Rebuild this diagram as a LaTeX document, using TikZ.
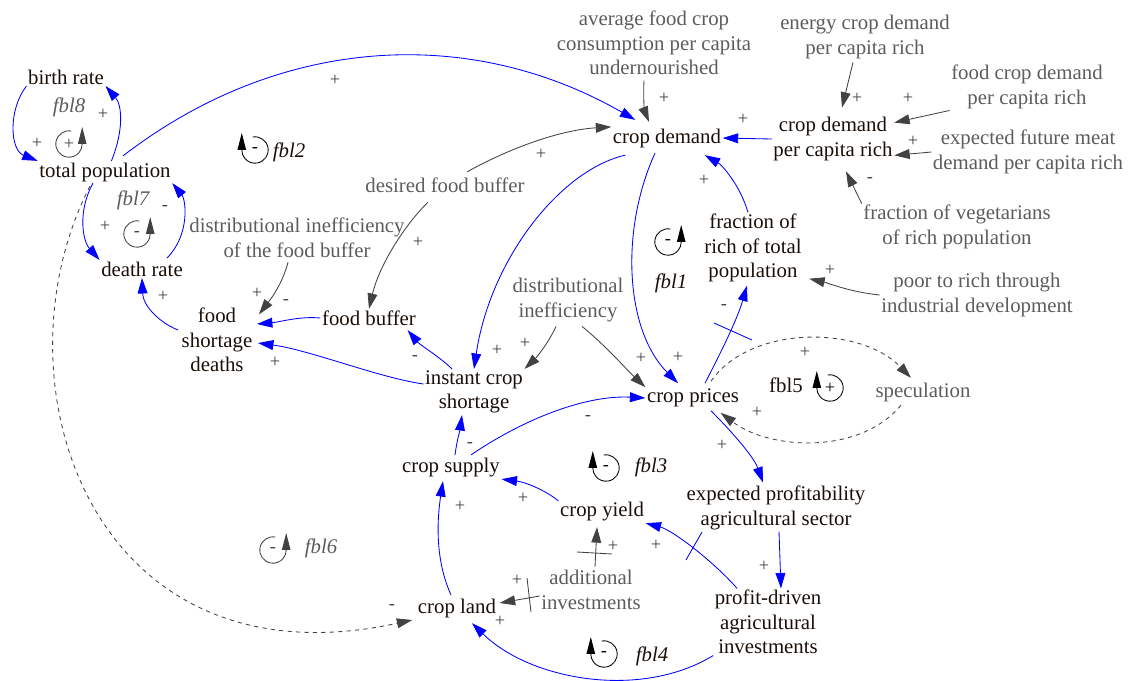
\documentclass[tikz,border=0pt]{standalone}
\usepackage{fontspec}
\setmainfont{Liberation Serif}
\usetikzlibrary{arrows.meta,calc}
\definecolor{vartext}{rgb}{.1,.06,.03}
\definecolor{auxtext}{rgb}{.36,.36,.36}
\definecolor{auxline}{rgb}{.26,.26,.26}

\begin{document}
\begin{tikzpicture}[x=0.025cm, y=-0.025cm,
  var/.style={text=vartext, align=center, inner sep=1pt, font=\fontsize{14.8}{17.4}\selectfont},
  aux/.style={var, text=auxtext},
  loopname/.style={var, font=\fontsize{14.8}{17.4}\selectfont\itshape},
  sgn/.style={text=auxline, inner sep=0pt, font=\fontsize{13}{13}\selectfont},
  causal/.style={blue, line width=0.6pt, -{Triangle[length=11pt,width=7pt]}},
  link/.style={auxline, line width=0.6pt, -{Triangle[length=11pt,width=7pt]}},
]
\useasboundingbox (0,0) rectangle (1133,680);

% variables
\node[var] (br) at (66,77) {birth rate};
\node[var] (tp) at (105,172) {total population};
\node[var] (dr) at (142,269) {death rate};
\node[var] (fsd) at (217,340) {food\\shortage\\deaths};
\node[var] (fb) at (369,318) {food buffer};
\node[var] (ics) at (474,392) {instant crop\\shortage};
\node[var] (cd) at (667,138) {crop demand};
\node[var] (cdr) at (833,139) {crop demand\\per capita rich};
\node[var] (fr) at (753,248) {fraction of\\rich of total\\population};
\node[var] (cp) at (693,398) {crop prices};
\node[var] (cs) at (451,468) {crop supply};
\node[var] (cy) at (602,512) {crop yield};
\node[var] (ep) at (776,508) {expected profitability\\agricultural sector};
\node[var] (pd) at (768,622) {profit-driven\\agricultural\\investments};
\node[var] (cl) at (457,608) {crop land};
\node[aux] (spec) at (923,392) {speculation};
\node[aux] (afc) at (654,43) {average food crop\\consumption per capita\\undernourished};
\node[aux] (ecd) at (865,37) {energy crop demand\\per capita rich};
\node[aux] (fcd) at (1027,87) {food crop demand\\per capita rich};
\node[aux] (efm) at (1028,152) {expected future meat\\demand per capita rich};
\node[aux] (fveg) at (957,227) {fraction of vegetarians\\of rich population};
\node[aux] (ptr) at (977,295) {poor to rich through\\industrial development};
\node[aux] (dfb) at (445,185) {desired food buffer};
\node[aux] (difb) at (297,238) {distributional inefficiency\\of the food buffer};
\node[aux] (di) at (568,300) {distributional\\inefficiency};
\node[aux] (ai) at (591,590) {additional\\investments};

% loop names
\node[loopname, text=auxtext] (fbl8) at (69,107) {fbl8};
\node[loopname, text=auxtext] (fbl7) at (133,200) {fbl7};
\node[loopname] (fbl2) at (289,152) {fbl2};
\node[loopname] (fbl1) at (671,283) {fbl1};
\node[loopname] (fbl3) at (651,467) {fbl3};
\node[loopname] (fbl4) at (652,656) {fbl4};
\node[loopname, text=auxtext] (fbl6) at (321,548) {fbl6};
\node[var] (fbl5) at (786,385) {fbl5};

% loop marks
\foreach \x/\y/\s/\c [count=\n] in {255/150/-/black, 606/468/-/black, 604/654/-/black, 830/388/+/black}
{
  \draw[draw=\c, line width=0.6pt, -{Triangle[length=12pt,width=6pt]}] (\x,\y) ++(100:0.33cm) arc[start angle=100, end angle=-180, radius=0.33cm] -- ++(0,-17);
  \node[sgn, text=\c] (ll\n) at (\x,\y) {\s};
}
\foreach \x/\y/\s/\c [count=\n] in {69/144/+/auxline, 137/234/-/auxline, 273/550/-/auxline, 668/242/-/black}
{
  \draw[draw=\c, line width=0.6pt, -{Triangle[length=12pt,width=6pt]}] (\x,\y) ++(80:0.33cm) arc[start angle=80, end angle=360, radius=0.33cm] -- ++(0,-17);
  \node[sgn, text=\c] (lr\n) at (\x,\y) {\s};
}

% population
\draw[causal] (br.south west) .. controls (8,110) and (10,150) .. (tp.north west);
\draw[causal] (tp.60) .. controls (124,130) and (122,105) .. (br.south east);
\draw[causal] ($(tp.north)+(18,-5)$) .. controls (280,35) and (470,25) .. ($(cd.north west)+(24,-7)$);
\draw[causal] ($(tp.south)+(-12,0)$) .. controls (78,210) and (82,240) .. (dr.north west);
\draw[causal] ($(dr.north)+(25,-2)$) .. controls (190,235) and (186,200) .. (tp.south east);
\draw[causal] ($(fsd.west)+(-2,-10)$) .. controls (158,322) and (143,305) .. (dr.south);
\draw[link, dashed] ($(tp.south)+(-15,3)$) .. controls (-10,380) and (90,690) .. ($(cl.west)+(-4,12)$);

% food buffer
\draw[causal] (fb.west) .. controls (300,316) and (280,322) .. ($(fsd.east)+(3,-16)$);
\draw[causal] ($(ics.west)+(0,-8)$) .. controls (380,378) and (310,350) .. ($(fsd.east)+(4,3)$);
\draw[causal] ($(ics.north)+(-22,0)$) .. controls (440,357) and (420,345) .. ($(fb.south east)+(-10,3)$);
\draw[link] ($(difb.south)+(-9,3)$) .. controls (282,285) and (270,300) .. ($(fsd.north east)+(5,8)$);
\draw[link] ($(dfb.south)+(-17,8)$) .. controls (400,230) and (378,270) .. (fb.north);
\draw[link] ($(dfb.north)+(22,-4)$) .. controls (510,148) and (560,130) .. (cd.north west);

% demand and prices
\draw[causal] ($(cd.south west)+(14,6)$) .. controls (560,170) and (490,260) .. (ics.north);
\draw[link] ($(di.south)+(-12,3)$) .. controls (550,340) and (538,356) .. (ics.north east);
\draw[link] ($(di.south)+(14,3)$) .. controls (605,345) and (625,368) .. (cp.north west);
\draw[causal] ($(cd.south)+(-12,4)$) .. controls (620,230) and (625,330) .. ($(cp.north)+(-15,-4)$);
\draw[causal] ($(cp.north)+(12,-4)$) .. controls (722,350) and (737,320) .. ($(fr.south)+(-6,2)$);
\draw[causal] ($(fr.north)+(-5,0)$) .. controls (740,185) and (722,165) .. ($(cd.south east)+(-18,6)$);
\draw[causal] (cdr.west) -- (cd.east);
\draw[link] ($(afc.south)+(-10,4)$) .. controls (643,100) and (645,112) .. ($(cd.north)+(-18,-5)$);
\draw[link] ($(ecd.south)+(-12,2)$) -- ($(cdr.north)+(9,-8)$);
\draw[link] (fcd.south west) -- (cdr.15);
\draw[link] (efm.west) -- (cdr.-15);
\draw[link] (fveg.north west) -- ($(cdr.south)+(13,9)$);
\draw[link] (ptr.west) .. controls (850,292) and (828,283) .. ($(fr.south east)+(6,-5)$);
\draw[link, dashed] ($(cp.north)+(18,-6)$) .. controls (750,325) and (860,325) .. ($(spec.north)+(-12,-3)$);
\draw[link, dashed] ($(spec.south)+(-22,2)$) .. controls (860,455) and (770,450) .. ($(cp.south east)+(-20,4)$);
\draw[blue, line width=0.6pt] (714,323) -- (752,340);

% supply
\draw[causal] ($(cs.north)+(4,-2)$) .. controls (457,440) and (460,430) .. ($(ics.south)+(-12,0)$);
\draw[causal] ($(cs.north)+(20,-2)$) .. controls (530,415) and (590,395) .. (cp.west);
\draw[causal] (cy.north west) .. controls (545,490) and (525,482) .. (cs.south east);
\draw[causal] ($(cl.north)+(-6,-2)$) .. controls (435,560) and (437,520) .. ($(cs.south)+(-8,2)$);
\draw[causal] ($(cp.south)+(18,2)$) .. controls (740,440) and (755,460) .. ($(ep.north)+(-13,-2)$);
\draw[causal] ($(ep.south)+(3,0)$) -- ($(pd.north)+(13,0)$);
\draw[causal] ($(pd.north west)+(24,0)$) .. controls (712,560) and (672,530) .. (cy.south east);
\draw[causal] (pd.south west) .. controls (640,700) and (530,680) .. ($(cl.south)+(15,4)$);
\draw[link] ($(ai.west)+(0,6)$) -- ($(cl.east)+(2,-5)$);
\draw[link] ($(ai.north)+(4,-2)$) -- ($(cy.south)+(-5,4)$);
\draw[blue, line width=0.6pt] (702,532) -- (686,560);
\draw[auxline, line width=0.6pt] (527,578) -- (531,612);
\draw[auxline, line width=0.6pt] (577,552) -- (612,554);

% polarities
\foreach \x/\y/\s [count=\n] in {37/143/+, 103/114/+, 335/80/+, 105/226/+, 165/208/-, 163/296/+,
  286/302/-, 257/293/+, 275/362/+, 415/358/-, 418/242/+, 541/154/+, 497/350/+, 525/343/+,
  641/358/+, 678/357/+, 724/307/-, 704/180/+, 743/119/+, 664/98/+, 857/98/+, 908/98/+,
  913/141/+, 870/180/-, 830/270/+, 805/352/+, 757/412/+, 470/445/-, 588/418/-, 523/498/+,
  460/506/+, 722/445/+, 764/566/+, 656/545/+, 500/621/+, 517/580/+, 613/546/+, 392/607/-}
  \node[sgn] (p\n) at (\x,\y) {\s};
\end{tikzpicture}
\end{document}
